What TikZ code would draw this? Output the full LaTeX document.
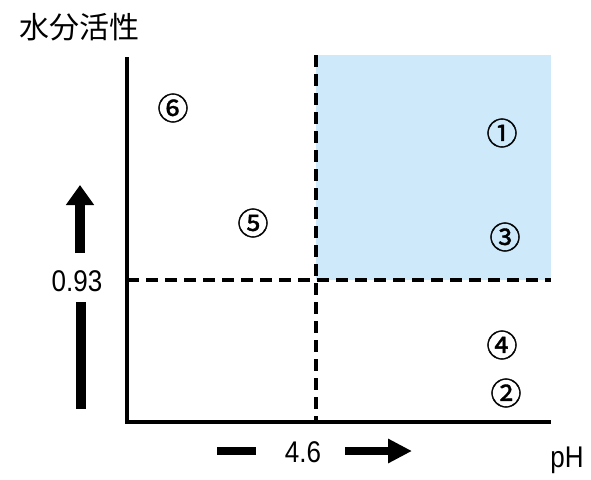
\documentclass[tikz,border=0pt]{standalone}
\usepackage{fontspec}
\setmainfont{Liberation Sans}
\newfontfamily\cjk{Noto Sans CJK JP}
\newfontfamily\cjkb[FakeBold=1.2]{Noto Sans CJK JP}
\usetikzlibrary{arrows.meta}
\definecolor{zoneblue}{RGB}{205,233,250}
\begin{document}
\begin{tikzpicture}[x=1pt,y=-1pt,
  axisline/.style={line width=4pt},
  dashline/.style={line width=4pt,dash pattern=on 12pt off 7pt},
  numlabel/.style={font=\fontsize{26}{26}\selectfont,inner sep=0pt,yscale=1.15,transform shape},
  circnum/.style={font=\cjkb\fontsize{31}{31}\selectfont,inner sep=0pt},
  fatarrow/.style={line width=10pt,-{Triangle[length=20pt,width=27pt]}},
  fatbar/.style={line width=10pt}]
\useasboundingbox (0,0) rectangle (591,479);
% coordinates
\coordinate (O) at (127,422);
\coordinate (Ytop) at (127,57);
\coordinate (Xend) at (551,422);
\coordinate (Bl) at (316,55);
\coordinate (Br) at (551,280);
\coordinate (Vtop) at (316,55);
\coordinate (Vbot) at (316,422);
\coordinate (Hl) at (127,280);
\coordinate (Hr) at (551,280);
% blue zone
\fill[zoneblue] (Bl) rectangle (Br);
% dashed lines
\draw[dashline] (Vtop) -- (Vbot);
\draw[dashline] (Hl) -- (Hr);
% axes
\draw[axisline] (Ytop) -- (O) -- (Xend);
% title
\node[font=\cjk\fontsize{30}{30}\selectfont,inner sep=0pt] (title) at (79,27) {水分活性};
% y indicator
\coordinate (ua) at (80,253);
\coordinate (ub) at (80,185);
\draw[fatarrow] (ua) -- (ub);
\node[numlabel] (y93) at (77,281) {0.93};
\coordinate (la) at (81,302);
\coordinate (lb) at (81,409);
\draw[fatbar] (la) -- (lb);
% x indicator
\coordinate (ba) at (217,451);
\coordinate (bb) at (256,451);
\draw[line width=8pt] (ba) -- (bb);
\node[numlabel] (x46) at (303,452) {4.6};
\coordinate (ra) at (345,451);
\coordinate (rb) at (412,451);
\draw[line width=8pt,-{Triangle[length=24pt,width=23pt]}] (ra) -- (rb);
\node[numlabel] (ph) at (567,460) {pH};
% circled numbers
\node[circnum] (n6) at (173,108) {⑥};
\node[circnum] (n5) at (253,223) {⑤};
\node[circnum] (n1) at (502,133) {①};
\node[circnum] (n3) at (505,237) {③};
\node[circnum] (n4) at (502,345) {④};
\node[circnum] (n2) at (506,393) {②};
\end{tikzpicture}
\end{document}
